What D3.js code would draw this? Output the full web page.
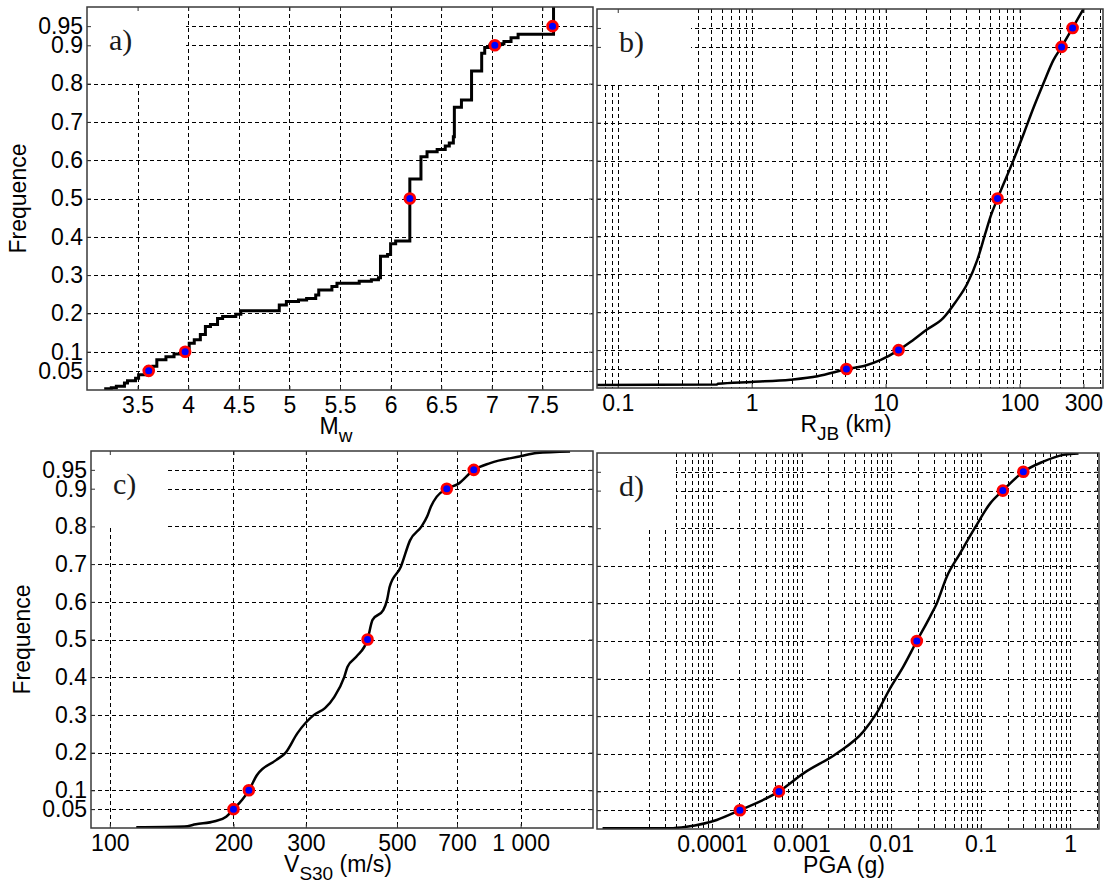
<!DOCTYPE html>
<html>
<head>
<meta charset="utf-8">
<script src="https://cdn.jsdelivr.net/npm/d3@7"></script>
<style>
  body { margin: 0; background: #fff; }
  svg { display: block; }
  .axis text { font-family: "Liberation Sans", Arial, sans-serif; font-size: 23px; fill: #000; }
  .axis path { display: none; }
  .axis line { stroke: #333; stroke-width: 1; }
  .grid line { stroke: #000; stroke-width: 1; stroke-dasharray: 4, 3; shape-rendering: crispEdges; }
  .title { font-family: "Liberation Sans", Arial, sans-serif; font-size: 23px; fill: #000; }
  .panel-label { font-family: "Liberation Serif", "Times New Roman", serif; font-size: 30px; fill: #1a1a1a; }
</style>
</head>
<body>
<svg id="chart" width="1110" height="885"></svg>
<script>
// Shared frequency axis
var freqTicks = [0.05, 0.1, 0.2, 0.3, 0.4, 0.5, 0.6, 0.7, 0.8, 0.9, 0.95];
var freqTickLabels = ["0.05", "0.1", "0.2", "0.3", "0.4", "0.5", "0.6", "0.7", "0.8", "0.9", "0.95"];

// a) magnitude, empirical CDF as jumps [Mw, F after jump]
var mwTicks = [3.5, 4, 4.5, 5, 5.5, 6, 6.5, 7, 7.5];
var mwTickLabels = ["3.5", "4", "4.5", "5", "5.5", "6", "6.5", "7", "7.5"];
var mwSteps = [
    [3.17, 0.003], [3.24, 0.006], [3.29, 0.010], [3.37, 0.018], [3.40, 0.024], [3.48, 0.031],
    [3.51, 0.040], [3.58, 0.046], [3.62, 0.052], [3.65, 0.062], [3.69, 0.079], [3.78, 0.087],
    [3.86, 0.094], [3.97, 0.104], [4.01, 0.122], [4.06, 0.131], [4.12, 0.145], [4.17, 0.166],
    [4.22, 0.171], [4.29, 0.187], [4.34, 0.192], [4.47, 0.198], [4.52, 0.207], [4.90, 0.222],
    [4.97, 0.231], [5.09, 0.235], [5.17, 0.239], [5.26, 0.248], [5.29, 0.261], [5.42, 0.270],
    [5.47, 0.279], [5.69, 0.284], [5.81, 0.288], [5.88, 0.293], [5.90, 0.349], [5.97, 0.354],
    [6.00, 0.382], [6.05, 0.389], [6.19, 0.551], [6.30, 0.609], [6.36, 0.622], [6.46, 0.628],
    [6.54, 0.637], [6.58, 0.645], [6.62, 0.661], [6.63, 0.738], [6.70, 0.757], [6.80, 0.833],
    [6.90, 0.879], [6.93, 0.894], [6.98, 0.900], [7.08, 0.904], [7.12, 0.910], [7.19, 0.920],
    [7.26, 0.929], [7.61, 1.0]
];
var mwQuantiles = [[3.61, 0.05], [3.97, 0.1], [6.19, 0.5], [7.03, 0.9], [7.60, 0.95]];

// b) Joyner-Boore distance
var rjbTicks = [0.1, 1, 10, 100, 300];
var rjbTickLabels = ["0.1", "1", "10", "100", "300"];
var rjbCurve = [
    [0.07, 0.008], [0.55, 0.009], [0.56, 0.011], [1.0, 0.016], [1.95, 0.022], [3.1, 0.031],
    [4.2, 0.042], [5.1, 0.05], [6.9, 0.058], [9.2, 0.074], [12.5, 0.1], [15.4, 0.122],
    [20.1, 0.153], [27, 0.185], [33, 0.225], [40.7, 0.275], [48.4, 0.338], [55.7, 0.409],
    [60.7, 0.452], [68.5, 0.5], [90.3, 0.602], [108, 0.673], [128, 0.742], [151, 0.804],
    [179, 0.865], [206, 0.9], [249, 0.95], [300, 1.0]
];
var rjbQuantiles = [[5.1, 0.05], [12.5, 0.1], [68.5, 0.5], [206, 0.9], [249, 0.95]];

// c) Vs30
var vsTicks = [100, 200, 300, 500, 700, 1000];
var vsTickLabels = ["100", "200", "300", "500", "700", "1 000"];
var vsCurve = [
    [116, 0.002], [152, 0.004], [162, 0.010], [180, 0.018], [192, 0.03], [200, 0.05], [210, 0.075],
    [218, 0.1], [228, 0.14], [254, 0.18], [268, 0.2], [286, 0.251], [314, 0.3],
    [334, 0.318], [352, 0.348], [372, 0.4], [379, 0.428], [398, 0.454], [424, 0.5],
    [436, 0.552], [463, 0.578], [473, 0.605], [480, 0.64], [511, 0.693], [538, 0.763],
    [574, 0.8], [592, 0.826], [605, 0.853], [625, 0.879], [661, 0.9], [703, 0.912],
    [769, 0.95], [843, 0.968], [1000, 0.986], [1093, 0.995], [1319, 0.999]
];
var vsQuantiles = [[200, 0.05], [218, 0.1], [424, 0.5], [661, 0.9], [769, 0.95]];

// d) PGA
var pgaTicks = [0.0001, 0.001, 0.01, 0.1, 1];
var pgaTickLabels = ["0.0001", "0.001", "0.01", "0.1", "1"];
var pgaCurve = [
    [6e-6, 0.002], [3.4e-5, 0.002], [5.2e-5, 0.006], [1.13e-4, 0.024], [2.05e-4, 0.05],
    [5.6e-4, 0.1], [1.05e-3, 0.148], [2.47e-3, 0.201], [4.9e-3, 0.259], [6.9e-3, 0.308],
    [9.75e-3, 0.374], [0.0137, 0.432], [0.0194, 0.5], [0.0273, 0.565], [0.0324, 0.6],
    [0.0419, 0.671], [0.059, 0.733], [0.0869, 0.802], [0.128, 0.866], [0.177, 0.9],
    [0.30, 0.95], [0.50, 0.977], [0.84, 0.995], [1.24, 0.999]
];
var pgaQuantiles = [[2.05e-4, 0.05], [5.6e-4, 0.1], [0.0194, 0.5], [0.177, 0.9], [0.30, 0.95]];

/// Layout of the four panels (pixels)
var panels = [
    {label: "a)", left: 87, top: 7, width: 506, height: 383, log: false, xDomain: [3, 8],
        xTicks: mwTicks, xTickLabels: mwTickLabels, data: mwSteps, step: true, quantiles: mwQuantiles,
        title: ["M", "w", ""], yTitle: true, mask: [99, 76], lineWidth: 3},
    {label: "b)", left: 597, top: 9, width: 506, height: 379, log: true, xDomain: [0.07, 420],
        xTicks: rjbTicks, xTickLabels: rjbTickLabels, data: rjbCurve, quantiles: rjbQuantiles,
        minorGrid: 0.08, title: ["R", "JB", " (km)"], yTitle: false, mask: [94, 75], lineWidth: 2.5},
    {label: "c)", left: 91, top: 451, width: 502, height: 377, log: true, xDomain: [90, 1500],
        xTicks: vsTicks, xTickLabels: vsTickLabels, data: vsCurve, quantiles: vsQuantiles,
        title: ["V", "S30", " (m/s)"], yTitle: true, mask: [77, 76], lineWidth: 2.5},
    {label: "d)", left: 597, top: 453, width: 502, height: 376, log: true, xDomain: [5.2e-6, 2.1],
        xTicks: pgaTicks, xTickLabels: pgaTickLabels, data: pgaCurve, quantiles: pgaQuantiles,
        minorGrid: 2e-5, title: ["PGA (g)", "", ""], yTitle: false, mask: [79, 76], lineWidth: 2.5}
];

var svg = d3.select("#chart");

function drawPanel(p, index) {
    var g = svg.append("g").attr("transform", "translate(" + p.left + "," + p.top + ")");
    var x = (p.log ? d3.scaleLog() : d3.scaleLinear()).domain(p.xDomain).range([0, p.width]);
    var y = d3.scaleLinear().domain([0, 1]).range([p.height, 0]);

    // Grid: log panels with minor grid get a line for every k*10^n
    var gridX = p.xTicks;
    if (p.minorGrid) {
        gridX = x.ticks(12).filter(function (d) { return d >= p.minorGrid * 0.999; });
    }
    var grid = g.append("g").attr("class", "grid");
    grid.selectAll(".vx").data(gridX).enter().append("line")
        .attr("x1", function (d) { return Math.round(x(d)) + 0.5; })
        .attr("x2", function (d) { return Math.round(x(d)) + 0.5; })
        .attr("y1", 0).attr("y2", p.height);
    grid.selectAll(".hy").data(freqTicks).enter().append("line")
        .attr("x1", 0).attr("x2", p.width)
        .attr("y1", function (d) { return Math.round(y(d)) + 0.5; })
        .attr("y2", function (d) { return Math.round(y(d)) + 0.5; });

    // White label box hides the grid in the upper left corner
    g.append("rect").attr("x", 0).attr("y", 0)
        .attr("width", p.mask[0]).attr("height", p.mask[1]).attr("fill", "#fff");

    // Ticks point inward on all four sides
    var fmtX = function (d, i) { return p.xTickLabels[i]; };
    var fmtY = function (d, i) { return freqTickLabels[i]; };
    g.append("g").attr("class", "axis").attr("transform", "translate(0," + p.height + ")")
        .call(d3.axisBottom(x).tickValues(p.xTicks).tickFormat(fmtX).tickSize(-4).tickPadding(7));
    g.append("g").attr("class", "axis")
        .call(d3.axisTop(x).tickValues(p.xTicks).tickFormat("").tickSize(-4));
    g.append("g").attr("class", "axis")
        .call(d3.axisLeft(y).tickValues(freqTicks).tickFormat(p.yTitle ? fmtY : "").tickSize(-4).tickPadding(4));
    g.append("g").attr("class", "axis").attr("transform", "translate(" + p.width + ",0)")
        .call(d3.axisRight(y).tickValues(freqTicks).tickFormat("").tickSize(-4));

    // Curve
    var clipId = "clip-" + index;
    g.append("clipPath").attr("id", clipId).append("rect")
        .attr("width", p.width).attr("height", p.height);
    var line = d3.line()
        .x(function (d) { return x(d[0]); })
        .y(function (d) { return y(d[1]); })
        .curve(p.step ? d3.curveStepAfter : d3.curveMonotoneX);
    g.append("path").datum(p.data)
        .attr("clip-path", "url(#" + clipId + ")")
        .attr("d", line)
        .attr("fill", "none").attr("stroke", "#000")
        .attr("stroke-width", p.lineWidth).attr("stroke-linejoin", "miter");

    // Quantile markers
    g.selectAll(".q").data(p.quantiles).enter().append("circle")
        .attr("cx", function (d) { return x(d[0]); })
        .attr("cy", function (d) { return y(d[1]); })
        .attr("r", 4.9)
        .attr("fill", "#0000ff").attr("stroke", "#ff0000").attr("stroke-width", 2.8);

    // Frame
    g.append("rect").attr("width", p.width).attr("height", p.height)
        .attr("fill", "none").attr("stroke", "#3a3a3a").attr("stroke-width", 1.5);

    g.append("text").attr("class", "panel-label")
        .attr("x", 22).attr("y", 43).text(p.label);

    // X title with optional subscript
    var t = g.append("text").attr("class", "title")
        .attr("x", p.width / 2 - 4).attr("y", p.height + 44)
        .attr("text-anchor", "middle");
    t.append("tspan").text(p.title[0]);
    if (p.title[1]) {
        t.append("tspan").attr("dy", 8).attr("font-size", 19).text(p.title[1]);
        if (p.title[2]) {
            t.append("tspan").attr("dy", -8).text(p.title[2]);
        }
    }

    if (p.yTitle) {
        g.append("text").attr("class", "title")
            .attr("transform", "translate(-61," + (p.height / 2) + ") rotate(-90)")
            .attr("text-anchor", "middle")
            .text("Frequence");
    }
}

panels.forEach(drawPanel);
</script>
</body>
</html>
